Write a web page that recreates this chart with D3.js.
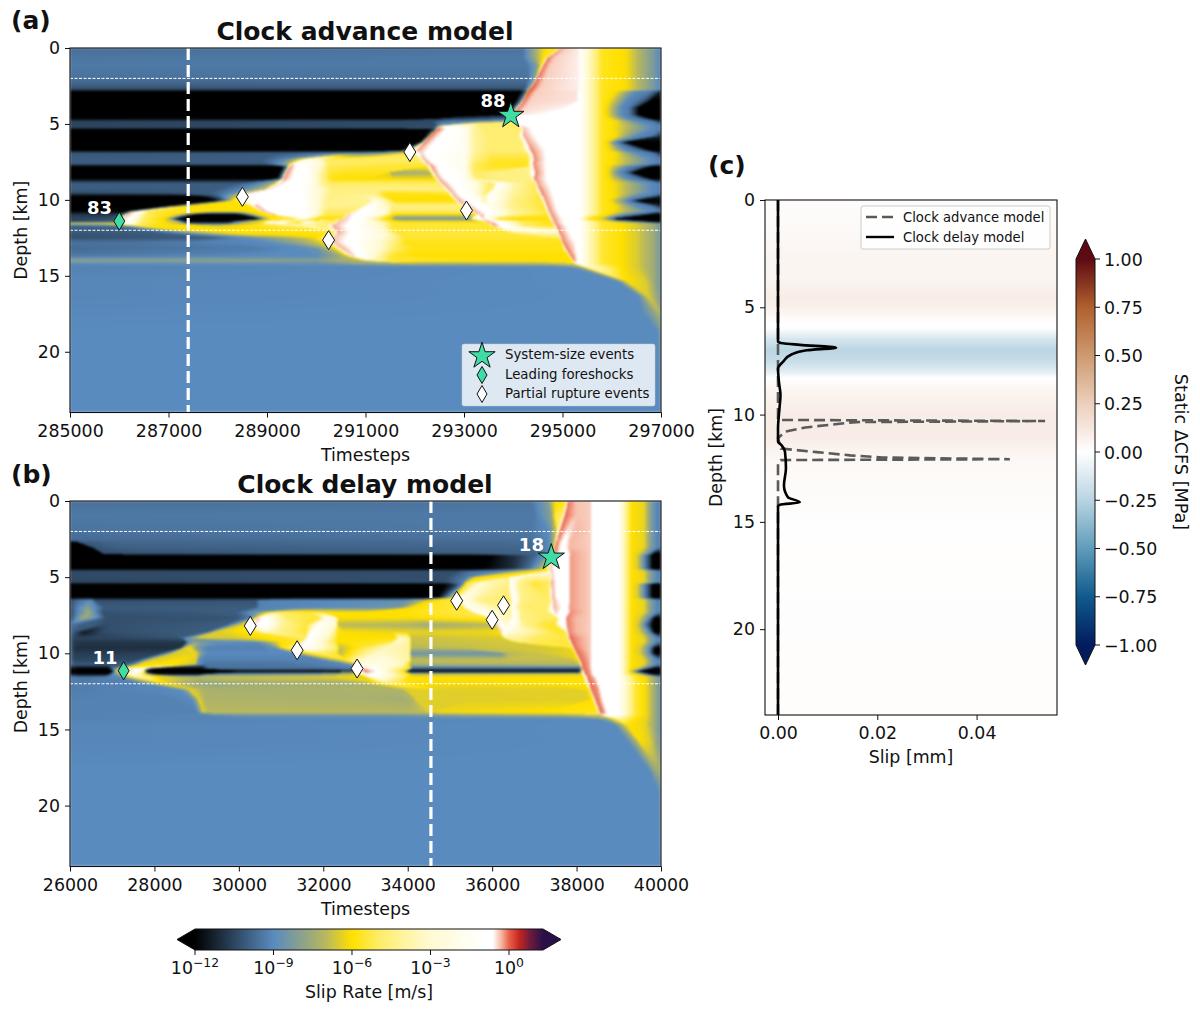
<!DOCTYPE html>
<html><head><meta charset="utf-8">
<script src="https://cdn.jsdelivr.net/npm/d3@7"></script>
<style>html,body{margin:0;padding:0;background:#fff}svg{display:block}text{font-family:"DejaVu Sans",sans-serif;fill:#111}</style>
</head><body><svg id="fig" width="1200" height="1013"></svg>
<script>
// ---------- colour scales
const slipLogs = [-12,-9,-8,-7,-6,-5,-4,-3,-1,-0.62,-0.3,0,0.4,0.8,1.3];
const slipCols = ["#000000","#5a8bbf","#87a08f","#b8b85f","#ffe000","#ffec66","#fff4a0","#fffad2","#ffffff","#ffffff","#f6b8a2","#e8624c","#c4241f","#6e1c3c","#2a1048"];
const cfsVals = [-1,-0.75,-0.5,-0.25,0,0.25,0.5,0.75,1];
const cfsCols = ["#021c5f","#105a8c","#5f9cbb","#b8d4e2","#ffffff","#eccfbc","#cd9a70","#b0602e","#5e0a12"];
// ---------- panel (a) slip-rate rows: depth km, "kilo-timestep offset : log10 V"
const baseA = 285000, ticksA = [285000,287000,289000,291000,293000,295000,297000];
const tP="10.33:-0.55 10.38:-1.5 10.55:-3.5 10.8:-5.7 11.3:-6.1 11.6:-7.3 11.85:-8.3 12:-9.2";
const tL1="10.33:-0.9 10.55:-3.5 10.8:-5.7 11.1:-6.1 11.3:-7.5 11.5:-9 11.8:-9.3 11.95:-10.5 12:-11.5";
const tL1b="10.33:-0.9 10.55:-3.5 10.8:-5.7 10.95:-6.1 11.15:-7.5 11.3:-9 11.55:-9.5 11.7:-10.5 11.8:-12 12:-12";
const tL2="10.33:-0.9 10.55:-3.5 10.8:-5.7 10.95:-6.5 11.1:-8 11.2:-9 11.35:-9.3 11.45:-10.5 11.55:-12 12:-12";
const tY="10.33:-0.9 10.55:-3.5 10.8:-5.7 11.05:-6.1 11.25:-6.8 11.55:-8 11.8:-9 12:-9.3";
const tL3="10.33:-0.9 10.55:-3.5 10.8:-5.7 10.95:-6.5 11:-8 11.1:-9.3 11.2:-10.5 11.25:-12 12:-12";
const tL4="10.33:-0.9 10.55:-3.5 10.8:-5.7 10.95:-6.3 11.1:-8.5 11.25:-9.5 11.35:-10.5 11.42:-12 12:-12";
const tL5="10.33:-0.9 10.55:-3.5 10.8:-5.7 10.95:-6.1 11.15:-7.5 11.3:-9.2 11.42:-10.5 11.5:-12 12:-12";
const tL6="10.33:-0.9 10.4:-4 10.5:-6 10.75:-6.3 10.85:-8 10.95:-10 11:-12 12:-12";
const tB="10.33:-0.9 10.55:-3.5 10.8:-5.5 11.2:-6 11.5:-6.5 11.85:-7.5 12:-8.5";
const rowsA = [
[0,`0:-9.65 9.2:-9.5 9.5:-7 9.65:-6 9.95:-5.6 9.98:-0.2 10.1:-0.4 ${tP}`],
[0.63,`0:-9.45 9.2:-9.4 9.45:-7.5 9.62:-6 9.68:-5 9.7:0 9.85:-0.4 ${tP}`],
[1.15,`0:-9.4 9.3:-9.4 9.5:-8 9.58:-5 9.6:0 9.75:-0.4 ${tP}`],
[2,`0:-9.55 9.3:-9.55 9.45:-8 9.48:0 9.65:-0.4 ${tP}`],
[2.55,`0:-10 9.25:-10 9.35:-8 9.38:0.1 9.55:-0.4 ${tP}`],
[2.75,`0:-10.6 9.2:-10.5 9.3:-8 9.33:0.1 9.5:-0.4 ${tP}`],
[2.85,`0:-12 9.15:-12 9.28:-9.5 9.31:0.1 9.47:-0.4 10.3:-0.5 ${tL1}`],
[3.47,`0:-12 9.05:-12 9.17:-9 9.2:0 9.35:-0.42 10.3:-0.5 ${tL1b}`],
[3.93,`0:-12 8.95:-12 9.05:-9 9.09:0 9.25:-0.45 10:-0.55 ${tL2}`],
[4.4,`0:-12 8.9:-12 8.95:-9 8.98:0 9.1:-0.5 9.5:-0.6 ${tL2}`],
[4.65,`0:-12 7.4:-12 7.55:-10.5 8.8:-10.4 8.95:-9 8.98:-1 ${tL1b}`],
[4.8,`0:-10.6 7.35:-10.4 7.6:-9.2 8.85:-9 8.97:-5.5 9.03:-0.9 9.5:-0.9 ${tL1}`],
[5.1,`0:-10.5 7.4:-10.4 7.5:-9 7.55:-6 7.7:-1.5 8.1:-3 8.3:-5 8.9:-5 9.05:-5.5 9.12:-0.5 9.4:-0.9 ${tY}`],
[5.25,`0:-10.5 7.3:-10.3 7.42:-10 7.46:0 7.6:-0.5 7.75:-1 8:-1.5 8.2:-4 8.4:-4.8 9:-4.8 9.15:-5 9.2:-0.3 9.5:-0.9 ${tY}`],
[5.35,`0:-12 7.3:-12 7.42:-10 7.46:0 7.6:-0.5 7.75:-1 8:-1.5 8.2:-4 8.4:-4.8 9:-4.8 9.15:-5 9.2:-0.3 9.5:-0.9 ${tY}`],
[5.8,`0:-12 7.2:-12 7.27:-10 7.3:0 7.45:-0.5 7.7:-1 8:-1.5 8.2:-4 8.5:-4.8 9.1:-4.8 9.2:-0.2 9.6:-0.9 ${tL1}`],
[6.2,`0:-12 7.1:-12 7.15:-9 7.18:0 7.3:-0.4 7.55:-1 8:-1.5 8.2:-4 8.5:-4.8 9.17:-4.8 9.28:-0.2 9.7:-0.9 ${tL3}`],
[6.75,`0:-12 6.7:-12 6.85:-9 6.98:-1 7.05:-0.2 7.25:-0.6 7.5:-1 8:-1.5 8.2:-4 8.5:-4.8 9.2:-4.8 9.36:-0.1 9.8:-0.9 ${tL1b}`],
[6.9,`0:-10.1 4.2:-10 5:-9.5 6.3:-9 6.75:-7 6.93:-5.5 7.05:-1 7.12:-0.4 7.3:-0.8 7.55:-1.2 8:-1.5 8.2:-4 8.5:-5 9.3:-5 9.38:-0.1 9.8:-0.9 ${tL1}`],
[7.3,`0:-10 3.9:-10 4.4:-9 4.6:-7 4.72:-6 4.8:-2 5.05:-3 5.2:-5 6.9:-5 7.1:-5 7.14:-0.2 7.3:-0.7 7.55:-1.3 8:-1.8 8.2:-4.5 8.6:-5.5 9.3:-5.5 9.42:-0.1 9.8:-0.9 ${tY}`],
[7.63,`0:-10 3.9:-10 4.2:-9 4.45:-7 4.5:-0.3 4.62:-0.8 4.85:-1.5 5.1:-2.5 5.25:-5 6.9:-5.3 7.18:-5.3 7.28:-0.1 7.4:-0.7 7.7:-1.3 8:-1.8 8.2:-5 8.6:-5.7 9.3:-5.7 9.4:-0.1 9.8:-0.9 ${tY}`],
[7.8,`0:-12 4.3:-12 4.42:-9 4.46:-0.1 4.6:-0.7 4.85:-1.5 5.1:-3 5.25:-5.3 6.9:-5.5 7.25:-5.6 7.33:-0.1 7.5:-0.7 7.7:-1.3 8:-1.8 8.2:-5 8.6:-5.7 9.3:-5.7 9.42:-0.1 9.8:-0.9 ${tL1b}`],
[8.2,`0:-12 4.25:-12 4.35:-9 4.38:-0.1 4.55:-0.6 4.85:-1.3 5.1:-4 5.3:-5.7 6.45:-5.7 6.5:-7.5 7.3:-7.3 7.4:-0.2 7.55:-0.8 8:-1.5 8.2:-5 8.6:-4.5 9.3:-4.5 9.45:-0.1 9.8:-0.9 ${tL4}`],
[8.6,`0:-12 4.2:-12 4.3:-9 4.33:-0.1 4.5:-0.6 4.85:-1.3 5.1:-4 5.3:-6 7.4:-6.2 7.48:-0.2 7.65:-0.8 8:-1.5 8.3:-5 8.7:-4.5 9.35:-4.5 9.43:-0.1 9.8:-0.9 ${tL1b}`],
[8.9,`0:-10 3.4:-10 3.9:-9 4.15:-7 4.27:-0.4 4.45:-0.8 4.85:-1.3 5.1:-4 5.3:-5 7.5:-5 7.56:-0.2 7.8:-0.8 8.2:-2 8.5:-5 8.62:-5 8.68:-1 9:-3.5 9.4:-5 9.45:-5 9.49:-0.2 9.85:-0.9 ${tY}`],
[9.3,`0:-10 3:-10 3.5:-9 3.95:-7 4:-0.4 4.2:-0.8 4.7:-1 5:-2.5 5.3:-4.5 7.6:-4.5 7.68:-0.2 7.85:-0.7 8.2:-2 8.5:-5 8.6:-4 8.65:-1 9:-4 9.45:-5.2 9.53:-0.1 9.9:-0.9 ${tY}`],
[9.55,`0:-10.3 2.8:-10 3.3:-9 3.55:-6.5 3.6:-0.3 3.9:-0.9 4.7:-1 5:-2.5 5.3:-4.5 6.2:-4.5 6.4:-5.8 7.68:-5.5 7.75:-0.2 7.9:-0.7 8.2:-2 8.45:-5 8.55:-1.5 9:-4 9.5:-5.3 9.57:-0.1 9.9:-0.9 ${tY}`],
[9.75,`0:-12 2.6:-12 3:-10 3.35:-7 3.45:-5 3.5:-1 3.9:-0.8 4.7:-1 5:-2.5 5.3:-4.5 6.2:-4 6.4:-5.8 7.72:-6 7.8:-0.2 7.95:-0.7 8.3:-2 8.42:-4 8.5:-1 9:-4.2 9.52:-5.4 9.6:-0.1 9.95:-0.9 ${tL1}`],
[10.05,`0:-12 3:-12 3.2:-9 3.3:-6 3.45:-5 3.55:-2 3.85:-0.8 4.75:-1 5:-2.5 5.2:-4.3 6.1:-4.3 6.2:-2 6.5:-4.5 6.55:-6 7.8:-6 7.87:-0.2 8.1:-0.7 8.3:-2 8.42:-4 8.5:-1 9:-4.5 9.58:-5.5 9.64:-0.1 9.95:-0.9 ${tL5}`],
[10.4,`0:-12 2:-12 2.2:-7.5 2.4:-6 3.65:-6 3.75:-0.2 4:-0.9 4.75:-1 5:-2.5 5.2:-4.3 5.95:-4.3 6.05:-0.9 6.4:-3 6.55:-4.5 7.95:-4.5 8.02:-0.2 8.25:-0.7 8.4:-1 9:-4.5 9.62:-5.5 9.68:-0.1 9.98:-0.9 ${tL1}`],
[10.75,`0:-12 1.15:-12 1.25:-9 1.33:-0.2 1.45:-2 1.6:-5.5 3:-6 3.85:-6 3.93:-0.2 4.1:-0.9 4.75:-1 5:-2.5 5.2:-5 5.75:-5 5.85:-0.5 6.2:-1.5 6.45:-3 6.55:-5 8.12:-5 8.18:-0.2 8.4:-0.7 8.6:-1.5 9:-4 9.66:-5.5 9.72:-0.1 10:-0.9 ${tY}`],
[10.95,`0:-10.8 1:-10.8 1.1:-9 1.17:-0.1 1.32:-1 1.55:-5 2.1:-6 2.3:-7 2.45:-10 2.6:-12 3.4:-12 3.55:-10 3.7:-7 3.85:-6 4.05:-6 4.1:-0.2 4.3:-0.9 4.75:-1 5:-2.5 5.2:-5.2 5.6:-5.2 5.65:-0.4 6:-1 6.4:-3 6.55:-6 8.25:-6 8.3:-0.2 8.55:-0.9 9:-4 9.7:-5.5 9.76:-0.1 10.05:-0.9 ${tL1b}`],
[11.25,`0:-10.5 0.9:-10.3 1:-7 1.08:-0.2 1.25:-1.5 1.5:-5 1.9:-6.2 2:-8 2.15:-12 3.85:-12 4:-8 4.1:-6 4.4:-5.5 4.65:-6 4.78:-1.5 5:-6 5.5:-6.2 5.55:-0.3 5.9:-1 6.3:-5.5 6.5:-6.5 6.55:-8.5 8.1:-8.6 8.15:-3 8.4:-0.3 8.6:-6 9.72:-6 9.8:-0.1 10.1:-0.9 ${tL6}`],
[11.42,`0:-10.7 0.95:-10 1:-7 1.06:-0.3 1.22:-1.2 1.47:-5 1.9:-6 2.2:-7 2.4:-12 3.2:-12 3.5:-7.5 3.9:-6 4.05:-2 4.2:-0.3 4.25:-2 4.45:-5 4.65:-5.5 4.78:-1 5:-4.5 5.4:-5 5.45:-0.3 5.85:-0.8 6.3:-4 6.55:-6 8.4:-6 8.45:-0.1 8.7:-1 9.2:-5 9.76:-5.8 9.82:-0.1 10.12:-0.9 ${tL1b}`],
[11.55,`0:-6.3 0.9:-6 1:-5 1.05:-0.3 1.2:-1 1.45:-5 1.9:-6 2.2:-7 2.4:-10 3.2:-10 3.5:-7.5 3.9:-6 4.05:-2 4.13:-0.3 4.25:-2 4.45:-5 4.65:-5.5 4.78:-1 5:-4.5 5.35:-5 5.4:-0.3 5.8:-0.8 6.3:-3 6.55:-5.5 8.5:-5.5 8.55:-0.1 8.8:-1 9.2:-5 9.8:-5.8 9.84:-0.1 10.12:-0.9 ${tB}`],
[11.7,`0:-10 1:-9.5 1.15:-8 1.3:-5 1.6:-5.8 2.4:-6 3:-6.3 3.4:-6 4.4:-5 4.6:-5 4.78:-1 5:-5 5.2:-5 5.3:-0.2 5.7:-0.8 6.3:-3 6.55:-5.5 8.55:-5.5 8.6:-0.1 8.85:-1 9.2:-5 9.82:-5.8 9.87:-0.1 10.2:-0.9 ${tB}`],
[12.05,`0:-10 1.5:-10 1.9:-9 2.2:-7 2.5:-6.3 3:-6 4.6:-5.8 5.35:-5.5 5.42:-0.2 5.8:-0.8 6.4:-3.5 6.55:-5.5 8.85:-5.5 9:-2 9.4:-2.5 9.85:-3 9.92:-0.1 10.25:-0.9 ${tB}`],
[12.25,`0:-10.2 2:-10 2.5:-9 3:-7.5 3.4:-6 4.2:-6 5:-6 5.35:-5.5 5.43:-0.3 5.8:-0.8 6.4:-2.5 6.7:-5.5 8.9:-5.5 9.5:-4 9.9:-5 9.95:-0.1 10.28:-0.9 ${tB}`],
[12.5,`0:-10.3 3:-10 3.5:-9 4.1:-8 4.7:-7 5:-6 5.25:-3 5.3:-0.3 5.7:-0.7 6.3:-2.5 6.8:-5.5 9.93:-5.5 9.98:-0.1 10.3:-0.9 ${tB}`],
[12.8,`0:-9.5 1:-9.5 4:-9 4.7:-7.5 5.1:-6.5 5.27:-5 5.35:-0.3 5.7:-0.8 6.3:-3 6.8:-5.8 9.98:-5.8 10.02:-0.1 10.3:-0.7 ${tB}`],
[13.2,`0:-9.7 4:-9.3 5:-8.7 5.2:-7.5 5.4:-6 5.5:-0.2 5.8:-0.8 6.3:-3 6.6:-5 7:-5.8 10:-5.8 10.08:-0.05 10.25:-0.5 ${tB}`],
[13.7,`0:-9.4 4:-9 5:-9 5.5:-7.5 5.65:-6 5.75:-0.3 6:-1.5 6.3:-4 6.5:-5.5 7:-6 10.13:-6 10.18:0 10.3:-0.6 ${tB}`],
[14,`0:-7.8 4:-7.8 5:-8 5.9:-7 6:-6 6.1:-3 6.5:-5.5 10.2:-6 10.24:0 10.32:-0.8 ${tB}`],
[14.2,`0:-9 5:-8.8 6:-7.5 10.2:-7 10.3:-1 ${tB}`],
[14.4,`0:-9.2 10.1:-9 10.33:-8 10.5:-3 10.95:-5 11.2:-6 11.5:-6.5 11.85:-7.5 12:-8.5`],
[15.35,`0:-9.1 11.1:-9 11.24:-7 11.3:-6 11.7:-6.5 12:-8.5`],
[16.35,`0:-9.1 11.55:-9 11.68:-7 11.75:-6.5 11.9:-7.5 12:-8.5`],
[17.3,`0:-9.05 11.6:-9 11.8:-8 11.95:-7 12:-8`],
[18.7,`0:-9 11.9:-9 12:-8.5`],
[24,`0:-9 12:-9`]];
// ---------- panel (b)
const baseB = 26000, ticksB = [26000,28000,30000,32000,34000,36000,38000,40000];
const bY="12.97:-0.9 13.15:-4 13.3:-6 13.6:-6.3 13.75:-8 13.9:-9.1 14:-9.3";
const bK="12.97:-0.9 13.15:-4 13.3:-6 13.45:-6.5 13.55:-8 13.62:-9.2 13.72:-10.5 13.8:-12 14:-12";
const bQ="12.97:-0.9 13.15:-4 13.3:-6 13.5:-6.5 13.65:-8 13.75:-9.5 13.85:-12 14:-12";
const bT="12.97:-0.9 13.15:-4 13.25:-6 13.33:-8 13.42:-10 13.5:-12 14:-12";
const bB="12.97:-0.9 13.2:-3.5 13.4:-5.5 13.65:-6.2 13.85:-7.5 14:-8.7";
const pk="12.33:-0.4 12.4:-0.95";
const rowsB = [
[0,`0:-9.6 10.9:-9.5 11.3:-8.3 11.5:-6 11.75:-5.8 11.8:-0.05 12:-0.35 ${pk} ${bY}`],
[0.9,`0:-9.4 11:-9.4 11.4:-8 11.5:-5.5 11.68:-5 11.72:0 12:-0.35 ${pk} ${bY}`],
[1.9,`0:-9.5 10.9:-9.4 11.35:-9 11.52:-6.5 11.62:0 11.8:-0.5 12:-0.3 ${pk} ${bY}`],
[2.6,`0:-9.7 11:-9.6 11.35:-9 11.48:-7 11.54:0 11.72:-0.8 11.85:-0.3 ${pk} ${bY}`],
[2.7,`0:-12 0.17:-12 0.2:-10.2 1:-9.8 11:-9.7 11.35:-9 11.47:-7 11.52:0 11.7:-0.8 11.85:-0.3 ${pk} ${bY}`],
[3.05,`0:-12 0.5:-12 0.56:-10.2 1:-9.9 11:-9.8 11.35:-9 11.45:-7 11.5:0 11.68:-0.85 11.84:-0.3 ${pk} ${bY}`],
[3.45,`0:-12 0.75:-12 0.8:-10.2 11:-9.9 11.35:-9 11.44:-7.5 11.47:0 11.65:-0.9 11.82:-0.9 11.86:-0.2 ${pk} ${bQ}`],
[3.58,`0:-12 10:-12 10.6:-10.8 11:-9.8 11.3:-8.5 11.42:-0.1 11.6:-0.9 11.8:-0.9 11.85:-0.2 ${pk} ${bK}`],
[4.45,`0:-12 9.8:-12 10.5:-11 10.9:-9.5 11.3:-6 11.36:-0.3 11.55:-0.9 11.8:-0.9 11.85:-0.2 ${pk} ${bK}`],
[4.6,`0:-10.4 9.2:-10.3 9.5:-9.5 10.3:-9 10.7:-7 11:-6 11.36:-5 11.4:-0.3 11.55:-0.9 11.8:-0.9 11.85:-0.2 ${pk} ${bY}`],
[5,`0:-10.4 8.9:-10.3 9.4:-9.3 9.55:-7 9.65:-6 10.4:-5.5 10.44:-0.5 10.5:-1.5 10.8:-4 11.38:-4 11.42:-0.3 11.55:-0.9 11.8:-0.9 11.85:-0.2 ${pk} ${bY}`],
[5.35,`0:-10.5 8.9:-10.3 9.3:-9.2 9.4:-6 9.7:-3 10.4:-4.5 10.44:-0.8 10.6:-4 11:-5.5 11.37:-5 11.4:-0.2 11.6:-0.9 11.8:-0.9 11.85:-0.2 ${pk} ${bY}`],
[5.45,`0:-12 8.9:-12 9.1:-11 9.3:-9 9.36:-6 9.7:-3 10.4:-4.5 10.44:-0.8 10.6:-4 11:-5.5 11.37:-5 11.4:-0.2 11.6:-0.9 11.8:-0.9 11.85:-0.2 ${pk} ${bK}`],
[6.35,`0:-12 8.7:-12 8.95:-9 9.06:-6.5 9.15:-5.5 9.25:-1.5 9.7:-4 10.4:-5 10.5:-0.7 10.7:-4.5 11.35:-5 11.42:-0.2 11.6:-0.9 11.8:-0.9 11.85:-0.2 ${pk} ${bK}`],
[6.5,`0:-10.3 0.2:-9.5 0.5:-9 0.6:-10.3 4.4:-10.2 4.5:-9.2 8:-8.8 8.4:-7 8.6:-6 9:-5.5 9.16:-5 9.3:-2 9.7:-4.5 10.44:-5 10.5:-0.8 10.7:-4.5 11.4:-5 11.44:-0.2 11.6:-0.7 11.8:-0.9 11.85:-0.2 ${pk} ${bY}`],
[7,`0:-10.3 0.2:-9 0.4:-8 0.6:-9 0.8:-10 4.4:-10 4.5:-9.2 6:-9 7.8:-8.5 8:-6.5 8.1:-6 9:-5.5 9.3:-5.8 9.42:-1.5 10.1:-4 10.44:-4 10.47:-0.9 10.6:-4 10.8:-5 11.3:-4.8 11.45:-0.3 11.6:-0.5 11.75:-0.9 11.85:-0.2 ${pk} ${bY}`],
[7.3,`0:-10.4 0.2:-9 0.45:-7.5 0.6:-9 0.77:-10.2 3.9:-10 4.4:-8.5 4.7:-6 5:-5 6.34:-6 7.9:-6 8.04:-5.8 9.2:-5.3 9.5:-5.3 9.6:-1 10.44:-4 10.5:-0.9 10.7:-4.5 11.3:-5 11.5:-0.3 11.65:-0.9 11.78:-1 11.85:-0.15 ${pk} ${bY}`],
[7.67,`0:-10.4 0.15:-9 0.3:-7.5 0.5:-8 0.75:-9.5 0.85:-10.3 3.95:-10.2 4.3:-9.3 4.4:-6 4.42:-0.2 4.65:-0.9 4.85:-3 5.2:-5 5.95:-5.5 6.1:-1.5 6.3:-2.5 6.36:-6 8.1:-6 9.4:-5.6 9.96:-5.5 9.98:-0.3 10.2:-3 10.44:-4 10.5:-0.9 10.7:-4.5 11.3:-5 11.55:-5 11.6:-0.9 11.72:-1 11.76:-0.1 12:-0.3 ${pk} ${bQ}`],
[8.13,`0:-9.5 0.3:-10 0.55:-10 0.85:-10.3 3.7:-10 4:-7 4.15:-6 4.25:-5 4.35:-0.5 4.7:-0.9 5:-4 5.6:-5.5 5.9:-1.2 6.3:-3 6.36:-7 8.04:-7.2 8.4:-7.5 9.4:-7.2 10.08:-7 10.13:-0.1 10.3:-2.5 10.5:-1 10.7:-4 11.2:-5.5 11.5:-5.5 11.6:-0.9 11.72:-1 11.78:-0.1 12:-0.3 ${pk} ${bK}`],
[8.6,`0:-9.5 0.3:-11.5 0.55:-11 0.8:-10.3 3.2:-10 3.3:-9.5 3.4:-6.5 4:-6 4.4:-5.5 4.6:-3 5:-4.5 5.6:-5.5 5.75:-1 6.2:-3 6.36:-6 8.04:-6.3 9.9:-6.2 10.18:-6 10.22:-0.2 10.4:-2.5 11:-4 11.5:-5.5 11.75:-5.5 11.8:-0.1 12:-0.3 ${pk} ${bQ}`],
[9,`0:-9.5 0.1:-10.5 0.85:-10.5 2.6:-10.2 2.75:-8.5 3:-6.5 4:-6.5 4.6:-6 5.3:-5.5 5.58:-5 5.62:-0.5 6:-2.5 6.36:-6 7.7:-6 7.82:-3 8.04:-4 8.08:-6.8 10.25:-6.5 10.3:-4 10.6:-4 11:-5 11.8:-5.3 11.83:0 12.05:-0.2 ${pk} ${bY}`],
[9.25,`0:-9.5 0.1:-10.8 2.75:-10.8 2.8:-9 3:-8 3.5:-8.8 4.4:-9 4.7:-7.5 5:-6 5.48:-5.5 5.5:-0.4 5.9:-2.5 6.36:-6 7.6:-5.5 7.75:-3 8.04:-4 8.08:-6.8 10.5:-6.6 10.6:-4.5 11:-5.2 11.82:-5.5 11.87:0 12.05:-0.2 ${pk} ${bY}`],
[9.65,`0:-9.4 0.1:-11 2.6:-11 2.65:-9.6 2.7:-6.5 2.85:-6 3:-8 3.2:-9.2 4.6:-9.2 4.9:-8.5 5:-6 5.2:-5 5.33:-2.5 5.4:-0.5 5.8:-2 6.34:-5 6.38:-7 7.5:-3.5 8.04:-4 8.08:-7 11.7:-6.5 11.9:-6 11.93:0 12.1:-0.2 ${pk} ${bQ}`],
[10,`0:-9.4 0.1:-10.7 2.1:-10.6 2.3:-9 2.45:-6.5 3:-6.3 3.1:-8 3.25:-9 5.3:-9 5.45:-7 5.6:-6 5.85:-5 6.05:-5.2 6.3:-5.5 6.38:-7 7.3:-3 8.04:-4 8.08:-8.6 10.2:-8.6 10.4:-7 11.9:-6.3 11.98:-5.5 12:0 12.2:-0.2 ${pk} ${bQ}`],
[10.43,`0:-9.4 0.1:-10.5 1.6:-10.4 1.75:-9 1.9:-6.5 2.6:-6 3:-6.5 3.05:-9 3.2:-9.2 6:-9.2 6.1:-7.5 6.4:-6.5 6.9:-3 7.5:-2.5 8.04:-4 8.08:-6.8 11.9:-6.8 12.05:-6 12.08:0 12.25:-0.2 ${pk} ${bY}`],
[10.75,`0:-9.4 0.1:-10 1.3:-10 1.5:-9 1.6:-6 2.4:-6 2.98:-6.5 3.02:-8.5 3.2:-9.5 5:-9.5 6.7:-9 6.8:-7 6.9:-2.5 7.3:-2 7.9:-3.5 8.04:-6.2 8.08:-7.3 12.08:-7 12.12:0 12.28:-0.2 ${pk} ${bY}`],
[11,`0:-11.5 0.2:-12 0.9:-12 1:-9.5 1.2:-5.5 1.35:-4 1.45:-0.3 1.6:-1 1.75:-3 1.85:-10 2:-12 3.1:-12 3.3:-9.5 6.7:-9.5 6.8:-9 6.88:-3 6.95:-0.2 7.2:-1 7.9:-5 8.08:-6 8.1:-10 12.1:-10 12.14:0 12.3:-0.2 ${pk} ${bK}`],
[11.18,`0:-12 1:-12 1.1:-6.5 1.27:-5 1.45:-0.3 1.6:-1.5 1.75:-4 1.8:-12 6.8:-12 6.85:-4 6.95:0 7.25:-0.5 7.6:-4 7.9:-6 8:-11 8.04:-12 12.05:-12 12.12:-7 12.17:0 12.32:-0.2 12.4:-0.8 ${bT}`],
[11.35,`0:-11.5 0.2:-12 0.9:-12 1:-9.5 1.2:-6 1.5:-2 1.7:-4.5 1.85:-9 2:-12 3.1:-12 3.3:-9 6.8:-8 6.9:-2.5 7.05:-0.5 7.4:-1.5 7.9:-5 8.04:-6 8.1:-7 12.1:-6.5 12.2:0 12.33:-0.2 12.4:-0.8 ${bK}`],
[11.55,`0:-9.2 0.3:-9.5 1.2:-9 1.4:-6 1.6:-3.5 1.9:-5 2.1:-6.3 3:-7 3.2:-6.8 7:-6.3 7.15:-1.5 7.5:-2.5 7.9:-5 8.04:-6 12.15:-6 12.25:0 12.4:-0.3 12.5:-0.8 ${bB}`],
[11.95,`0:-9.3 1.6:-9.2 1.9:-7.5 2.2:-6 2.5:-7 3.2:-7.8 3.8:-7.5 7:-7.3 7.3:-5.5 7.5:-4.5 8:-6 8.6:-6.1 12.2:-6 12.3:0 12.45:-0.2 12.55:-0.8 ${bB}`],
[12.4,`0:-9.3 2.6:-9 2.75:-8 2.85:-6.3 3.1:-7 3.2:-7.3 6:-7.3 7.2:-7.2 7.9:-7.2 7.98:-6.45 12.2:-6.4 12.3:-6 12.35:-0.05 12.5:-0.15 12.6:-0.8 ${bB}`],
[13.05,`0:-9.2 2.5:-9.2 2.9:-9 3:-7.5 3.05:-6.3 3.2:-7.2 7:-7.3 8:-7.4 8.15:-7 8.2:-6.45 12.25:-6.4 12.38:-6 12.43:0 12.55:-0.15 12.65:-0.8 ${bB}`],
[13.9,`0:-9.2 3:-9.2 3.1:-8 3.15:-6.5 3.3:-7 7:-7 8:-7 8.45:-6.8 8.52:-6.2 12.5:-5.8 12.55:0 12.65:-0.15 12.75:-0.8 ${bB}`],
[14.05,`0:-9.2 3.2:-9.1 3.3:-8.5 8:-8.5 8.5:-8 12.55:-7 12.6:-0.5 12.75:-0.8 ${bB}`],
[14.3,`0:-9.2 12.5:-9 12.75:-7.5 13:-4 13.2:-5 13.4:-6 13.65:-6.3 13.85:-7.5 14:-8.7`],
[14.7,`0:-9.1 12.9:-9 13.05:-7.5 13.2:-6 13.6:-6.2 13.85:-7.5 14:-8.7`],
[15.8,`0:-9.1 13.2:-9 13.4:-7.5 13.5:-6 13.75:-6.5 14:-8.5`],
[17.6,`0:-9 13.7:-9 13.85:-7.5 14:-7.5`],
[19,`0:-9 13.9:-9 14:-8.7`],
[24,`0:-9 14:-9`]];
// ---------- events
const eventsA = [{t:286000,d:11.4,k:"fore"},{t:293950,d:4.45,k:"sys"},{t:288500,d:9.8,k:"part"},{t:291900,d:6.85,k:"part"},{t:293050,d:10.7,k:"part"},{t:290250,d:12.65,k:"part"}];
const eventsB = [{t:27270,d:11.15,k:"fore"},{t:37400,d:3.7,k:"sys"},{t:30270,d:8.2,k:"part"},{t:31380,d:9.8,k:"part"},{t:32800,d:11,k:"part"},{t:35160,d:6.55,k:"part"},{t:36000,d:7.8,k:"part"},{t:36270,d:6.85,k:"part"}];
const labelsA = [{t:285600,d:10.95,s:"83"},{t:293590,d:3.9,s:"88"}];
const labelsB = [{t:26830,d:10.7,s:"11"},{t:36930,d:3.3,s:"18"}];
const clockA = 287400, clockB = 34550;
const depthTicks = [0,5,10,15,20], horizLines = [2,12];
// ---------- panel (c)
const cfsDepth = [0,1,2.5,3.5,4.5,5,5.6,6,6.5,7,7.5,8,8.3,9,10,11,11.5,12,13,14.5,15,24];
const cfsValue = [0.015,0.025,0.05,0.05,0.09,0.08,0.015,-0.01,-0.15,-0.24,-0.2,-0.1,0,0.06,0.095,0.095,0.07,0.04,0.025,0.015,0.005,0.012];
const delayDepth = [0,6.6,6.68,6.75,6.88,7,7.2,7.54,7.85,8.5,9.09,9.7,10.65,11.27,11.42,11.73,12.5,13.3,13.85,14.09,14.2,14.27,24];
const delaySlip = [0,0,0.001,0.0044,0.0117,0.0058,0.0027,0.001,0,0.0002,0.0005,0.0003,0,0,0.0007,0.0014,0.0016,0.0012,0.002,0.0044,0.0004,0,0];
const advDepth = [0,10.25,10.3,10.35,10.45,10.6,10.8,11.1,11.58,11.75,11.9,12,12.08,12.12,12.2,24];
const advSlip = [0,0,0.0538,0.0158,0.0115,0.0055,0.0014,0,0.0006,0.0078,0.0145,0.021,0.0467,0.0006,0,0];
const cfsTicks = [1,0.75,0.5,0.25,0,-0.25,-0.5,-0.75,-1];
const slipExp = [-12,-9,-6,-3,0];
const FS = "17.4px";

const svg = d3.select("#fig");
const colorSlip = d3.scaleLinear().domain(slipLogs).range(slipCols).interpolate(d3.interpolateRgb).clamp(true);
const colorCfs = d3.scaleLinear().domain(cfsVals).range(cfsCols).clamp(true);

// aligns two neighbouring depth rows so a rupture front moves between them rather than cross-fading
function align(a,b,win,pen){
  const n=a.length, W=2*win+1, back=new Uint8Array(n*W);
  let prev=new Float32Array(W).fill(Infinity), cur=new Float32Array(W);
  for(let i=0;i<n;i++){
    cur.fill(Infinity);
    for(let k=0;k<W;k++){
      const j=i+k-win; if(j<0||j>=n) continue;
      const c=Math.abs(a[i]-b[j]);
      if(i===0&&j===0){cur[k]=c;continue;}
      let best=Infinity,bp=0;
      if(i>0&&prev[k]<best){best=prev[k];bp=1;}
      if(i>0&&k+1<W&&prev[k+1]+pen<best){best=prev[k+1]+pen;bp=2;}
      if(k>0&&cur[k-1]+pen<best){best=cur[k-1]+pen;bp=3;}
      cur[k]=best+c; back[i*W+k]=bp;
    }
    [prev,cur]=[cur,prev];
  }
  const path=[]; let i=n-1,k=win;
  while(i>=0){
    path.push([i,i+k-win]);
    const bp=back[i*W+k];
    if(bp===1) i--; else if(bp===2){i--;k++;} else if(bp===3) k--; else break;
  }
  return path.reverse();
}
function heatmap(rows, base, x, y, id){
  const [x0,x1]=x.range(), [y0,y1]=y.range();
  const w=Math.round(x1-x0), h=Math.round(y1-y0);
  const cv=document.createElement("canvas"); cv.width=w; cv.height=h;
  const ctx=cv.getContext("2d"); const img=ctx.createImageData(w,h);
  const depths=rows.map(r=>r[0]);
  const idx=d3.scaleLinear().domain(depths).range(d3.range(depths.length)).clamp(true);
  const cols=rows.map(r=>{
    const kv=r[1].trim().split(/\s+/).map(s=>s.split(":").map(Number));
    const sc=d3.scaleLinear().domain(kv.map(k=>base+k[0]*1000)).range(kv.map(k=>k[1])).clamp(true);
    return Float32Array.from(d3.range(w),i=>sc(x.invert(x0+i+.5)));
  });
  const paths=new Map();
  const lut=d3.range(1401).map(i=>d3.rgb(colorSlip(-12+i/100)));
  const out=new Float32Array(w), seen=new Uint8Array(w);
  for(let j=0;j<h;j++){
    const f=idx(y.invert(y0+(j+.5)*(y1-y0)/h)), a=Math.min(Math.floor(f),rows.length-2), u=f-a;
    if(!paths.has(a)) paths.set(a,align(cols[a],cols[a+1],45,0.06));
    const p=paths.get(a); seen.fill(0);
    for(const [ia,ib] of p){
      const px=Math.round(ia+(ib-ia)*u);
      out[px]=cols[a][ia]*(1-u)+cols[a+1][ib]*u; seen[px]=1;
    }
    for(let i=1;i<w;i++) if(!seen[i]) out[i]=out[i-1];
    for(let i=0;i<w;i++){
      const c=lut[Math.max(0,Math.min(1400,Math.round((out[i]+12)*100)))];
      const q=(j*w+i)*4; img.data[q]=c.r;img.data[q+1]=c.g;img.data[q+2]=c.b;img.data[q+3]=255;
    }
  }
  ctx.putImageData(img,0,0);
  svg.append("defs").append("clipPath").attr("id",id).append("rect").attr("x",x0).attr("y",y0).attr("width",x1-x0).attr("height",y1-y0);
  svg.append("g").attr("clip-path",`url(#${id})`).append("image").attr("href",cv.toDataURL()).attr("x",x0).attr("y",y0).attr("width",x1-x0).attr("height",y1-y0).attr("preserveAspectRatio","none").style("filter","blur(0.8px)");
}
const diamond=(w,h)=>`M0,${-h/2}L${w/2},0L0,${h/2}L${-w/2},0Z`;
const starGen=r=>d3.symbol().type(d3.symbolStar).size(r*r*1.27)();
function marks(evs,x,y){
  evs.forEach(e=>{
    const g=svg.append("g").attr("transform",`translate(${x(e.t)},${y(e.d)})`);
    if(e.k==="sys") g.append("path").attr("d",starGen(13)).attr("fill","#3fdca6").attr("stroke","#111").attr("stroke-width",1);
    else if(e.k==="fore") g.append("path").attr("d",diamond(11,18)).attr("fill","#3fdca6").attr("stroke","#111").attr("stroke-width",1);
    else g.append("path").attr("d",diamond(12,19)).attr("fill","#fff").attr("stroke","#111").attr("stroke-width",1);
  });
}
function axes(x,y,xTicks,xfmt,xlab,ylabX,yTicks){
  const [x0,x1]=x.range(), [y0,y1]=y.range();
  const ax=svg.append("g").attr("transform",`translate(0,${y1})`).call(d3.axisBottom(x).tickValues(xTicks).tickFormat(xfmt).tickSize(5).tickPadding(7));
  const ay=svg.append("g").attr("transform",`translate(${x0},0)`).call(d3.axisLeft(y).tickValues(yTicks).tickFormat(d3.format("d")).tickSize(5).tickPadding(5));
  [ax,ay].forEach(a=>{a.selectAll("text").style("font-size",FS).attr("fill","#111");a.select(".domain").remove();a.selectAll("line").attr("stroke","#111")});
  svg.append("rect").attr("x",x0).attr("y",y0).attr("width",x1-x0).attr("height",y1-y0).attr("fill","none").attr("stroke","#111").attr("stroke-width",1.1);
  svg.append("text").attr("x",(x0+x1)/2).attr("y",y1+48).attr("text-anchor","middle").style("font-size",FS).text(xlab);
  svg.append("text").attr("transform",`translate(${ylabX},${(y0+y1)/2}) rotate(-90)`).attr("text-anchor","middle").style("font-size",FS).text("Depth [km]");
}
function panel(rows,base,xdom,ticks,top,bot,evs,labels,clock,id,title){
  const x=d3.scaleLinear().domain(xdom).range([70,661]);
  const y=d3.scaleLinear().domain([0,24]).range([top,bot]);
  heatmap(rows,base,x,y,id);
  horizLines.forEach(d=>svg.append("line").attr("x1",70).attr("x2",661).attr("y1",y(d)).attr("y2",y(d)).attr("stroke","#fff").attr("stroke-width",1).attr("stroke-dasharray","3,1.5"));
  svg.append("line").attr("x1",x(clock)).attr("x2",x(clock)).attr("y1",top).attr("y2",bot).attr("stroke","#fff").attr("stroke-width",3.2).attr("stroke-dasharray","12,5");
  marks(evs,x,y);
  labels.forEach(l=>svg.append("text").attr("x",x(l.t)).attr("y",y(l.d)).attr("text-anchor","middle").style("font-size","18px").style("font-weight","bold").style("fill","#fff").text(l.s));
  axes(x,y,ticks,d3.format("d"),"Timesteps",27,depthTicks);
  svg.append("text").attr("x",365).attr("y",top-8).attr("text-anchor","middle").style("font-size","25px").style("font-weight","bold").text(title);
}
panel(rowsA,baseA,[285000,297000],ticksA,48,412.5,eventsA,labelsA,clockA,"ca","Clock advance model");
panel(rowsB,baseB,[26000,40000],ticksB,501,866.5,eventsB,labelsB,clockB,"cb","Clock delay model");
// panel letters
[["(a)",11,29],["(b)",11,483],["(c)",708,174]].forEach(l=>svg.append("text").attr("x",l[1]).attr("y",l[2]).style("font-size","25px").style("font-weight","bold").text(l[0]));
// legend (a)
const lg=svg.append("g");
lg.append("rect").attr("x",462).attr("y",344).attr("width",193).attr("height",62).attr("rx",2).attr("fill","#fff").attr("fill-opacity",.8).attr("stroke","#ccc").attr("stroke-opacity",.5);
lg.append("path").attr("transform","translate(482,356)").attr("d",starGen(13)).attr("fill","#3fdca6").attr("stroke","#111");
lg.append("path").attr("transform","translate(482,375)").attr("d",diamond(10,17)).attr("fill","#3fdca6").attr("stroke","#111");
lg.append("path").attr("transform","translate(482,394)").attr("d",diamond(10,17)).attr("fill","#fff").attr("stroke","#111");
[["System-size events",359],["Leading foreshocks",379],["Partial rupture events",398]].forEach(t=>lg.append("text").attr("x",505).attr("y",t[1]).style("font-size","13.3px").text(t[0]));
// panel (c)
const xc=d3.scaleLinear().domain([-0.00262,0.0562]).range([765,1057]);
const yc=d3.scaleLinear().domain([0,24]).range([200,715]);
{
  const cv=document.createElement("canvas"),h=515;cv.width=1;cv.height=h;const ctx=cv.getContext("2d");
  const prof=d3.scaleLinear().domain(cfsDepth).range(cfsValue);
  d3.range(h).forEach(j=>{ctx.fillStyle=colorCfs(prof(yc.invert(200+j+.5)));ctx.fillRect(0,j,1,1)});
  svg.append("image").attr("href",cv.toDataURL()).attr("x",765).attr("y",200).attr("width",292).attr("height",515).attr("preserveAspectRatio","none");
}
const lineAdv=d3.line().x((d,i)=>xc(advSlip[i])).y(d=>yc(d));
const lineDel=d3.line().x((d,i)=>xc(delaySlip[i])).y(d=>yc(d)).curve(d3.curveMonotoneY);
svg.append("path").attr("d",lineAdv(advDepth)).attr("fill","none").attr("stroke","#5a5a5a").attr("stroke-width",2.6).attr("stroke-dasharray","11,5");
svg.append("path").attr("d",lineDel(delayDepth)).attr("fill","none").attr("stroke","#000").attr("stroke-width",2.6);
axes(xc,yc,[0,0.02,0.04],d3.format(".2f"),"Slip [mm]",722,depthTicks);
const lc=svg.append("g");
lc.append("rect").attr("x",861).attr("y",206).attr("width",189).attr("height",43).attr("rx",2).attr("fill","#fff").attr("fill-opacity",.85).attr("stroke","#ccc");
lc.append("line").attr("x1",866).attr("x2",894).attr("y1",217).attr("y2",217).attr("stroke","#5a5a5a").attr("stroke-width",2.4).attr("stroke-dasharray","11,5");
lc.append("line").attr("x1",866).attr("x2",894).attr("y1",237).attr("y2",237).attr("stroke","#000").attr("stroke-width",2.4);
lc.append("text").attr("x",903).attr("y",222).style("font-size","13.2px").text("Clock advance model");
lc.append("text").attr("x",903).attr("y",242).style("font-size","13.2px").text("Clock delay model");
// slip-rate colorbar
const cbx=d3.scaleLinear().domain([-12,1.3]).range([195,543]);
const defs=svg.append("defs");
const g1=defs.append("linearGradient").attr("id","g1").attr("x1",0).attr("x2",1).attr("y1",0).attr("y2",0);
slipLogs.forEach((v,i)=>g1.append("stop").attr("offset",(v+12)/13.3).attr("stop-color",slipCols[i]));
svg.append("rect").attr("x",195).attr("y",929).attr("width",348).attr("height",21).attr("fill","url(#g1)");
svg.append("path").attr("d","M195,929L177,939.5L195,950Z").attr("fill","#000");
svg.append("path").attr("d","M543,929L561,939.5L543,950Z").attr("fill","#2a1048");
svg.append("path").attr("d","M195,929L177,939.5L195,950L543,950L561,939.5L543,929Z").attr("fill","none").attr("stroke","#111").attr("stroke-width",1);
slipExp.forEach(e=>{
  svg.append("line").attr("x1",cbx(e)).attr("x2",cbx(e)).attr("y1",950).attr("y2",955).attr("stroke","#111");
  const t=svg.append("text").attr("x",cbx(e)).attr("y",974).attr("text-anchor","middle").style("font-size",FS);
  t.append("tspan").text("10");
  t.append("tspan").attr("dy",-7.5).style("font-size","12.4px").text(String(e).replace("-","\u2212"));
});
svg.append("text").attr("x",369).attr("y",998).attr("text-anchor","middle").style("font-size",FS).text("Slip Rate [m/s]");
// CFS colorbar
const cby=d3.scaleLinear().domain([1,-1]).range([259,645]);
const g2=defs.append("linearGradient").attr("id","g2").attr("x1",0).attr("x2",0).attr("y1",0).attr("y2",1);
cfsVals.slice().reverse().forEach((v,i)=>g2.append("stop").attr("offset",(1-v)/2).attr("stop-color",colorCfs(v)));
svg.append("rect").attr("x",1076).attr("y",259).attr("width",19).attr("height",386).attr("fill","url(#g2)");
svg.append("path").attr("d","M1076,259L1085.5,239L1095,259Z").attr("fill","#5e0a12");
svg.append("path").attr("d","M1076,645L1085.5,665L1095,645Z").attr("fill","#021c5f");
svg.append("path").attr("d","M1076,259L1085.5,239L1095,259L1095,645L1085.5,665L1076,645Z").attr("fill","none").attr("stroke","#111");
cfsTicks.forEach(v=>{
  svg.append("line").attr("x1",1095).attr("x2",1100).attr("y1",cby(v)).attr("y2",cby(v)).attr("stroke","#111");
  svg.append("text").attr("x",1104).attr("y",cby(v)+6.5).style("font-size",FS).text(d3.format(".2f")(v).replace("-","\u2212"));
});
svg.append("text").attr("transform","translate(1175,452) rotate(90)").attr("text-anchor","middle").style("font-size","17.6px").text("Static \u0394CFS [MPa]");
</script></body></html>
